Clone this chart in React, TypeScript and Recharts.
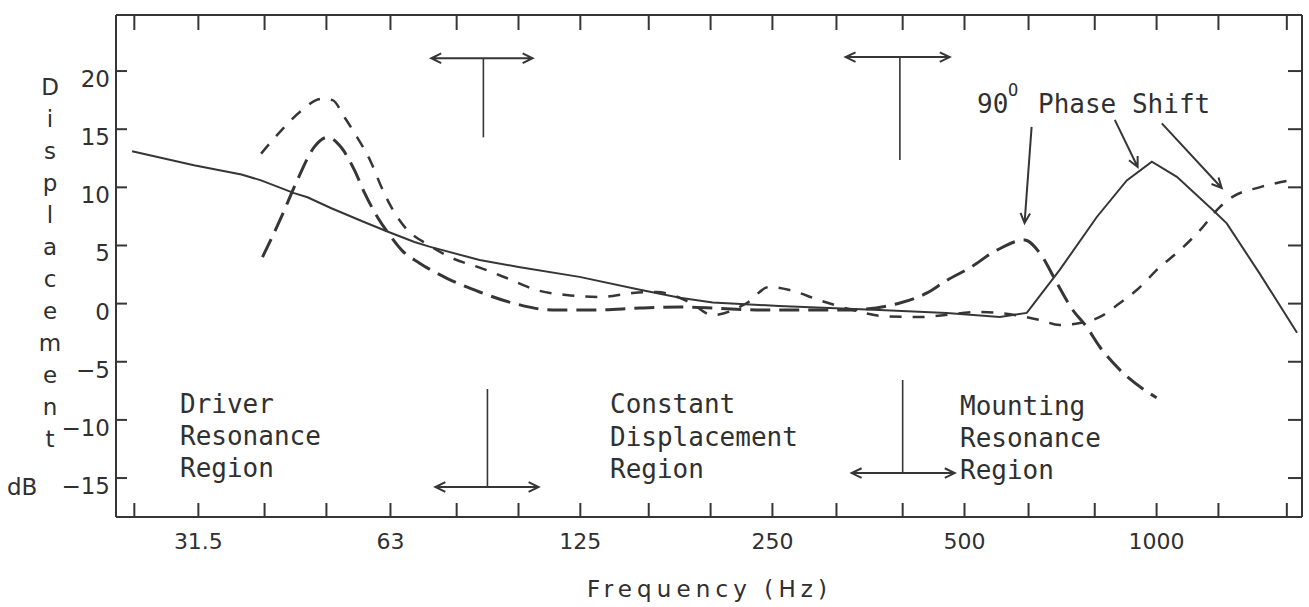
import React from 'react';
import { LineChart, Line, XAxis, YAxis, ReferenceLine } from 'recharts';

const INK = '#363636';
const TEXT = '#303030';

// frequency axis (Hz), 1/3-octave marks; labelled ones below
const thirdOctaves = [25, 31.5, 40, 50, 63, 80, 100, 125, 160, 200, 250, 315, 400, 500, 630, 800, 1000, 1250, 1600];
const labelledFreqs = [31.5, 63, 125, 250, 500, 1000];
const dbTicks = [-15, -10, -5, 0, 5, 10, 15, 20];
const X_DOMAIN = [23.4, 1690];
const Y_DOMAIN = [-18.35, 24.82];

// solid curve
const solidFreq = [24.8, 31, 36.8, 39.5, 44.5, 46.7, 50.9, 57.4, 62.3, 68.7, 72.5, 86.9, 100, 124.6, 155, 179, 201.5, 256, 307, 368, 469, 568, 626, 705, 806, 898, 983, 1076, 1225, 1288, 1450, 1660];
const solidDb = [13.1, 11.9, 11.1, 10.6, 9.5, 9.15, 8.2, 7.0, 6.2, 5.3, 4.9, 3.75, 3.15, 2.3, 1.2, 0.5, 0.1, -0.2, -0.38, -0.55, -0.8, -1.15, -0.8, 2.9, 7.45, 10.6, 12.2, 10.9, 8.05, 6.9, 2.6, -2.5];

// long (heavy) dashes
const longFreq = [39.7, 42.5, 45.0, 47.9, 50.2, 52.8, 55.3, 57.4, 60.1, 63.2, 65.6, 69.9, 77.1, 86.9, 97.9, 113, 132, 155, 179, 241, 327, 396, 436, 469, 509, 562, 621, 656, 698, 739, 777, 815, 876, 1000];
const longDb = [4.0, 7.45, 10.6, 13.5, 14.3, 13.4, 11.5, 9.5, 7.45, 5.7, 4.6, 3.5, 2.2, 1.0, 0.05, -0.55, -0.55, -0.38, -0.3, -0.55, -0.55, 0.05, 0.9, 2.0, 3.06, 4.6, 5.47, 4.35, 1.77, -0.55, -2.0, -3.73, -5.7, -8.1];

// short dashes
const shortFreq = [39.5, 42.5, 45.7, 49.1, 51.1, 53.4, 55.3, 58.8, 61.0, 63.2, 66.3, 72.5, 78.8, 86.9, 95.8, 106.7, 118.9, 134, 151, 164.6, 185, 201.5, 228, 247, 266, 296, 334, 372, 425, 528, 656, 705, 758, 815, 876, 931, 1012, 1088, 1169, 1256, 1317, 1450, 1618];
const shortDb = [12.9, 14.9, 16.6, 17.6, 17.5, 16.0, 14.7, 12.1, 10.0, 8.3, 6.6, 5.0, 3.9, 3.1, 2.2, 1.17, 0.74, 0.57, 0.91, 1.0, 0.14, -0.98, 0.05, 1.43, 1.17, 0.3, -0.55, -1.07, -1.15, -0.72, -1.4, -1.84, -1.67, -1.15, 0.05, 1.17, 3.15, 4.6, 6.3, 8.3, 9.2, 10.0, 10.6];

// region markers and phase-shift pointers, in (Hz, dB)
const doubleArrows = [
  [[73.0, 21.1], [105.2, 21.1]],
  [[74.1, -15.77], [107.5, -15.77]],
  [[325.6, 21.2], [474, 21.2]],
  [[332.8, -14.57], [482.6, -14.57]],
];
const stems = [
  [[88.1, 21.1], [88.1, 14.3]],
  [[89.4, -7.34], [89.4, -15.77]],
  [[396, 21.2], [396, 12.35]],
  [[400, -6.57], [400, -14.57]],
];
const pointers = [
  [[637, 15.2], [621, 6.93]],
  [[860, 15.8], [934, 11.75]],
  [[1019, 15.5], [1265, 9.94]],
];

const zipPts = (fs: number[], ds: number[]) => fs.map((f, i) => ({ f, db: ds[i] }));
const solid = zipPts(solidFreq, solidDb);
const longDash = zipPts(longFreq, longDb);
const shortDash = zipPts(shortFreq, shortDb);

const fmtDb = (v: number) => (v < 0 ? '\u2212' + Math.abs(v) : String(v));

const head = (x: number, y: number, ang: number, len = 11) => {
  const a1 = ang + Math.PI - 0.45, a2 = ang + Math.PI + 0.45;
  return `M${x + len * Math.cos(a1)},${y + len * Math.sin(a1)}L${x},${y}L${x + len * Math.cos(a2)},${y + len * Math.sin(a2)}`;
};

const arrowShape = (both: boolean) => (p: any) => {
  const { x1, y1, x2, y2 } = p;
  const ang = Math.atan2(y2 - y1, x2 - x1);
  let d = `M${x1},${y1}L${x2},${y2}` + head(x2, y2, ang);
  if (both) d += head(x1, y1, ang + Math.PI);
  return <path d={d} fill="none" stroke={INK} strokeWidth={2} />;
};

const lineShape = (p: any) => <line x1={p.x1} y1={p.y1} x2={p.x2} y2={p.y2} stroke={INK} strokeWidth={1.6} />;

const BottomTick = (p: any) => {
  const { x, y, payload } = p;
  const lab = labelledFreqs.includes(payload.value);
  return (
    <g>
      <line x1={x} x2={x} y1={y} y2={y - 14} stroke={INK} strokeWidth={2} />
      {lab && <text x={x} y={y + 32} textAnchor="middle" fontFamily="DejaVu Sans" fontSize={22} fill={TEXT}>{payload.value}</text>}
    </g>
  );
};
const TopTick = (p: any) => <line x1={p.x} x2={p.x} y1={p.y} y2={p.y + 15} stroke={INK} strokeWidth={2} />;
const LeftTick = (p: any) => {
  const { x, y, payload } = p;
  return (
    <g>
      <line x1={x} x2={x + 11} y1={y} y2={y} stroke={INK} strokeWidth={2} />
      <text x={x - 6} y={y + 16} textAnchor="end" fontFamily="DejaVu Sans" fontSize={23} fill={TEXT}>{fmtDb(payload.value)}</text>
    </g>
  );
};
const RightTick = (p: any) => <line x1={p.x} x2={p.x - 14} y1={p.y} y2={p.y} stroke={INK} strokeWidth={2} />;

const seg = (s: number[][]) => [{ x: s[0][0], y: s[0][1] }, { x: s[1][0], y: s[1][1] }];

const mono = { fontFamily: 'DejaVu Sans Mono', fontSize: 26, fill: TEXT };
const sans = { fontFamily: 'DejaVu Sans', fontSize: 23, fill: TEXT };
const yTitle = 'Displacement'.split('');

export default function App() {
  const axisLine = { stroke: INK, strokeWidth: 2 };
  return (
    <div style={{ position: 'absolute', left: 0, top: 0, width: 1309, height: 607, background: '#fff' }}>
      <LineChart width={1309} height={607} margin={{ top: 0, right: 0, bottom: 0, left: 0 }}>
        <XAxis dataKey="f" type="number" scale="log" domain={X_DOMAIN} ticks={thirdOctaves} allowDataOverflow interval={0}
          height={90} tickLine={false} tickSize={0} tickMargin={0} axisLine={axisLine} tick={BottomTick} />
        <XAxis xAxisId="top" orientation="top" dataKey="f" type="number" scale="log" domain={X_DOMAIN} ticks={thirdOctaves}
          allowDataOverflow interval={0} height={15} tickLine={false} tickSize={0} tickMargin={0} axisLine={axisLine} tick={TopTick} />
        <YAxis type="number" domain={Y_DOMAIN} ticks={dbTicks} allowDataOverflow interval={0} width={116}
          tickLine={false} tickSize={0} tickMargin={0} axisLine={axisLine} tick={LeftTick} />
        <YAxis yAxisId="right" orientation="right" type="number" domain={Y_DOMAIN} ticks={dbTicks} allowDataOverflow interval={0}
          width={7} tickLine={false} tickSize={0} tickMargin={0} axisLine={axisLine} tick={RightTick} />

        <Line data={solid} dataKey="db" type="linear" stroke={INK} strokeWidth={2} dot={false} isAnimationActive={false} />
        <Line data={longDash} dataKey="db" type="monotone" stroke={INK} strokeWidth={3} strokeDasharray="20 9" dot={false} isAnimationActive={false} />
        <Line data={shortDash} dataKey="db" type="monotone" stroke={INK} strokeWidth={2.5} strokeDasharray="12 11" dot={false} isAnimationActive={false} />

        {stems.map((s, i) => <ReferenceLine key={'s' + i} segment={seg(s)} shape={lineShape} ifOverflow="visible" />)}
        {doubleArrows.map((s, i) => <ReferenceLine key={'a' + i} segment={seg(s)} shape={arrowShape(true)} ifOverflow="visible" />)}
        {pointers.map((s, i) => <ReferenceLine key={'p' + i} segment={seg(s)} shape={arrowShape(false)} ifOverflow="visible" />)}
      </LineChart>

      <svg width={1309} height={607} style={{ position: 'absolute', left: 0, top: 0, pointerEvents: 'none' }}>
        {yTitle.map((ch, i) => (
          <text key={i} x={50} y={95 + 32 * i} textAnchor="middle" {...sans}>{ch}</text>
        ))}
        <text x={7} y={495} {...sans}>dB</text>
        <text x={707} y={597} textAnchor="middle" textLength={240} lengthAdjust="spacing" {...sans}>Frequency (Hz)</text>

        <text {...mono}>
          <tspan x={180} y={413}>Driver</tspan>
          <tspan x={180} y={445}>Resonance</tspan>
          <tspan x={180} y={477}>Region</tspan>
        </text>
        <text {...mono}>
          <tspan x={610} y={413}>Constant</tspan>
          <tspan x={610} y={446}>Displacement</tspan>
          <tspan x={610} y={478}>Region</tspan>
        </text>
        <text {...mono}>
          <tspan x={960} y={415}>Mounting</tspan>
          <tspan x={960} y={447}>Resonance</tspan>
          <tspan x={960} y={479}>Region</tspan>
        </text>
        <text {...mono}>
          <tspan x={977} y={113}>90</tspan>
          <tspan x={1008} y={96} fontSize={17}>O</tspan>
          <tspan x={1038} y={113}>Phase Shift</tspan>
        </text>
      </svg>
    </div>
  );
}
